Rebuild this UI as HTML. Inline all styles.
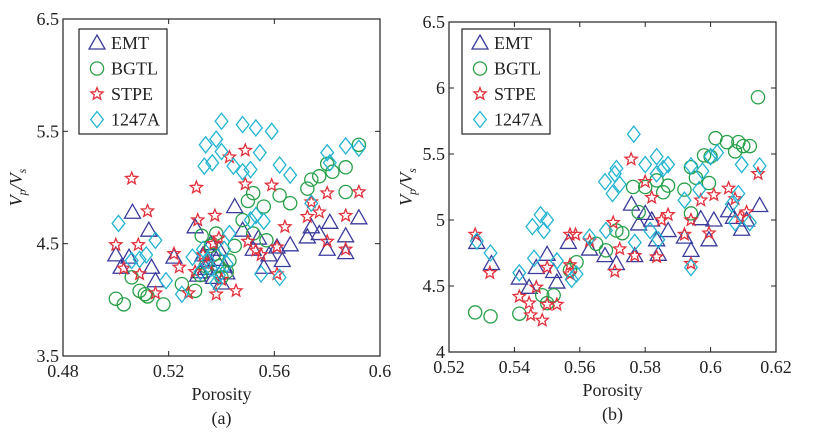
<!DOCTYPE html>
<html><head><meta charset="utf-8"><style>
html,body{margin:0;padding:0;background:#fff;}
svg text{font-family:"Liberation Serif",serif;fill:#222;}
</style></head><body>
<svg id="fig" width="826" height="433" viewBox="0 0 826 433" xmlns="http://www.w3.org/2000/svg"></svg>
<script>
// ---------- Panel (a) data ----------
const aEmtX=[0.500,0.5063,0.502,0.505,0.5125,0.515,0.5135,0.522,0.530,0.532,0.535,0.537,0.539,0.541,0.533,0.536,0.540,0.545,0.548,0.552,0.556,0.561,0.563,0.566,0.5725,0.574,0.577,0.580,0.581,0.587,0.587,0.592,0.554,0.558,0.531,0.534,0.538,0.542];
const aEmtY=[4.40,4.78,4.29,4.38,4.62,4.17,4.29,4.38,4.65,4.25,4.35,4.20,4.45,4.30,4.40,4.50,4.15,4.83,4.62,4.45,4.29,4.47,4.35,4.49,4.56,4.65,4.59,4.45,4.69,4.57,4.42,4.73,4.55,4.40,4.22,4.28,4.36,4.24];
const aBgtlX=[0.500,0.503,0.506,0.509,0.512,0.518,0.525,0.530,0.5325,0.538,0.543,0.548,0.552,0.556,0.562,0.566,0.5725,0.574,0.577,0.580,0.582,0.587,0.587,0.592,0.557,0.552,0.534,0.537,0.540,0.545,0.511,0.532,0.536,0.539,0.542,0.550];
const aBgtlY=[4.01,3.96,4.20,4.08,4.03,3.96,4.14,4.08,4.57,4.59,4.35,4.71,4.95,4.83,4.93,4.86,4.99,5.07,5.10,5.21,5.14,4.96,5.18,5.38,4.53,4.59,4.30,4.40,4.20,4.48,4.05,4.22,4.48,4.30,4.25,4.88];
const aStpeX=[0.500,0.506,0.5085,0.503,0.512,0.509,0.515,0.522,0.5275,0.5305,0.531,0.5375,0.538,0.543,0.5455,0.549,0.549,0.550,0.553,0.559,0.561,0.564,0.561,0.5725,0.574,0.577,0.580,0.580,0.587,0.587,0.592,0.535,0.524,0.537,0.540,0.533,0.530,0.539,0.555];
const aStpeY=[4.49,5.08,4.49,4.28,4.79,4.23,4.06,4.41,4.06,5.00,4.71,4.75,4.05,5.27,4.08,5.33,5.03,4.52,4.44,5.02,4.47,4.65,4.23,4.74,4.87,4.78,4.95,4.52,4.75,4.45,4.96,4.32,4.29,4.50,4.18,4.40,4.25,4.55,4.40];
const aDiaX=[0.501,0.506,0.5115,0.515,0.519,0.525,0.534,0.5335,0.5365,0.538,0.540,0.540,0.548,0.553,0.559,0.5445,0.548,0.551,0.5545,0.562,0.566,0.574,0.580,0.581,0.587,0.592,0.551,0.555,0.562,0.529,0.543,0.532,0.535,0.538,0.541,0.536,0.509,0.556,0.533,0.539,0.542,0.553];
const aDiaY=[4.68,4.35,4.40,4.53,4.17,4.05,5.38,5.19,5.22,5.43,5.59,5.32,5.56,5.53,5.50,5.19,5.14,5.16,5.31,5.20,5.11,4.86,5.31,5.22,5.37,5.35,4.71,4.23,4.20,4.38,4.59,4.25,4.35,4.15,4.45,4.28,4.36,4.70,4.45,4.22,4.32,4.75];
// ---------- Panel (b) data ----------
const bEmtX=[0.5285,0.533,0.5415,0.5445,0.5467,0.550,0.552,0.553,0.5565,0.563,0.5677,0.5712,0.5758,0.5768,0.578,0.580,0.582,0.5835,0.584,0.587,0.592,0.594,0.597,0.5995,0.601,0.6055,0.607,0.6095,0.611,0.615];
const bEmtY=[4.83,4.67,4.56,4.49,4.64,4.74,4.61,4.53,4.83,4.78,4.73,4.67,5.12,4.73,4.97,5.05,5.00,4.85,4.74,4.92,4.87,4.77,5.01,4.85,5.00,5.07,5.02,4.93,5.00,5.11];
const bBgtlX=[0.528,0.5327,0.5415,0.550,0.552,0.557,0.559,0.565,0.568,0.5712,0.573,0.5763,0.578,0.580,0.5835,0.5855,0.587,0.592,0.594,0.5955,0.598,0.5995,0.600,0.6015,0.605,0.6075,0.6085,0.610,0.612,0.6145,0.594,0.5485];
const bBgtlY=[4.30,4.27,4.29,4.37,4.43,4.62,4.68,4.82,4.77,4.92,4.90,5.25,5.06,5.25,5.30,5.21,5.26,5.23,5.40,5.32,5.49,5.28,5.48,5.62,5.59,5.52,5.59,5.56,5.56,5.93,5.05,4.43];
const bStpeX=[0.528,0.5325,0.5415,0.545,0.5467,0.5485,0.550,0.550,0.553,0.557,0.5587,0.557,0.563,0.5702,0.5707,0.5722,0.5757,0.5768,0.580,0.582,0.5835,0.585,0.587,0.592,0.594,0.594,0.597,0.5995,0.601,0.6055,0.6075,0.609,0.611,0.6145,0.557,0.5445];
const bStpeY=[4.89,4.60,4.42,4.28,4.49,4.24,4.36,4.64,4.36,4.89,4.89,4.66,4.84,4.98,4.61,4.78,5.46,4.73,5.29,5.17,4.72,5.00,5.04,4.89,4.67,5.00,5.15,4.90,5.19,5.24,5.16,5.02,5.06,5.35,4.59,4.37];
const bDiaX=[0.5285,0.5327,0.5415,0.5455,0.548,0.550,0.549,0.546,0.553,0.5575,0.559,0.563,0.5677,0.5707,0.5712,0.5722,0.570,0.5765,0.5768,0.580,0.5835,0.5835,0.5855,0.587,0.5815,0.584,0.592,0.594,0.594,0.5965,0.5975,0.600,0.602,0.6065,0.6075,0.6085,0.6095,0.612,0.615,0.568];
const bDiaY=[4.84,4.75,4.60,4.95,5.04,5.00,4.92,4.71,4.69,4.55,4.59,4.87,5.29,5.35,5.39,5.27,5.20,5.65,4.83,5.42,5.48,5.35,5.39,5.42,4.92,4.85,5.15,5.41,4.64,5.23,5.37,5.48,5.51,5.12,4.98,5.20,5.42,4.98,5.41,4.92];

const aXTicks=["0.48","0.52","0.56","0.6"], aXVals=[0.48,0.52,0.56,0.6];
const aYTicks=["3.5","4.5","5.5","6.5"], aYVals=[3.5,4.5,5.5,6.5];
const bXTicks=["0.52","0.54","0.56","0.58","0.6","0.62"], bXVals=[0.52,0.54,0.56,0.58,0.6,0.62];
const bYTicks=["4","4.5","5","5.5","6","6.5"], bYVals=[4,4.5,5,5.5,6,6.5];
const seriesNames=["EMT","BGTL","STPE","1247A"];

const NS="http://www.w3.org/2000/svg";
const svg=document.getElementById('fig');
const COL={EMT:"#3b3b9c",BGTL:"#27a048",STPE:"#e2303c","1247A":"#22b4d2"};
function mk(tag,attrs,parent){const e=document.createElementNS(NS,tag);for(const k in attrs)e.setAttribute(k,attrs[k]);(parent||svg).appendChild(e);return e;}
function marker(g,type,cx,cy){
  let e;
  if(type==="EMT") e=mk('polygon',{points:`${cx},${cy-8} ${cx+8},${cy+6} ${cx-8},${cy+6}`},g);
  else if(type==="BGTL") e=mk('circle',{cx:cx,cy:cy,r:6.6},g);
  else if(type==="1247A") e=mk('polygon',{points:`${cx},${cy-8} ${cx+6.3},${cy} ${cx},${cy+8} ${cx-6.3},${cy}`},g);
  else {let p=[];for(let i=0;i<10;i++){const r=i%2?2.8:6.4;const a=-Math.PI/2+i*Math.PI/5;p.push((cx+r*Math.cos(a)).toFixed(1)+","+(cy+r*Math.sin(a)).toFixed(1));}e=mk('polygon',{points:p.join(' ')},g);}
  e.setAttribute('fill','none');e.setAttribute('stroke',COL[type]);e.setAttribute('stroke-width','1.3');
  return e;
}
function panel(P){
  const g=mk('g',{});
  
  
  const sx=v=>P.x0+(v-P.xmin)/(P.xmax-P.xmin)*(P.x1-P.x0);
  const sy=v=>P.y1-(v-P.ymin)/(P.ymax-P.ymin)*(P.y1-P.y0);
  const box=mk('rect',{x:P.x0,y:P.y0,width:P.x1-P.x0,height:P.y1-P.y0,fill:'none',stroke:'#222','stroke-width':1.2},g);
  
  
  P.xv.forEach((v,i)=>{const x=sx(v);
    mk('line',{x1:x,x2:x,y1:P.y1,y2:P.y1-5,stroke:'#222'},g);mk('line',{x1:x,x2:x,y1:P.y0,y2:P.y0+5,stroke:'#222'},g);
    const t=mk('text',{x:x,y:P.y1+21,'text-anchor':'middle','font-size':18},g);t.textContent=P.xt[i];
    
    });
  P.yv.forEach((v,i)=>{const y=sy(v);
    mk('line',{x1:P.x0,x2:P.x0+5,y1:y,y2:y,stroke:'#222'},g);mk('line',{x1:P.x1,x2:P.x1-5,y1:y,y2:y,stroke:'#222'},g);
    const t=mk('text',{x:P.x0-4,y:y+6,'text-anchor':'end','font-size':18},g);t.textContent=P.yt[i];
    
    });
  const xl=mk('text',{x:(P.x0+P.x1)/2,y:P.y1+44,'text-anchor':'middle','font-size':18},g);xl.textContent="Porosity";
  
  
  const sub=mk('text',{x:(P.x0+P.x1)/2,y:P.y1+68,'text-anchor':'middle','font-size':18},g);sub.textContent=P.label;
  
  
  const yl=mk('text',{transform:`translate(${P.ylx},${(P.y0+P.y1)/2}) rotate(-90)`,'text-anchor':'middle','font-size':18,'font-style':'italic'},g);
  yl.innerHTML='V<tspan font-size="12" dy="4">p</tspan><tspan dy="-4">/V</tspan><tspan font-size="12" dy="4">s</tspan>';
  
  
  P.series.forEach(s=>{const sg=mk('g',{},g);
    
    
    s.x.forEach((xv,i)=>{const m=marker(sg,s.n,sx(xv),sy(s.y[i]));
      
      });});
  const lg=mk('g',{},g);
  
  
  mk('rect',{x:P.lx,y:29,width:88,height:105,fill:'#fff',stroke:'#222','stroke-width':1.2},lg);
  seriesNames.forEach((n,i)=>{const cy=43+i*25.5;
    const e=mk('g',{},lg);
    
    
    marker(e,n,P.lx+18,cy);
    const t=mk('text',{x:P.lx+32,y:cy+6,'font-size':18},e);t.textContent=n;});
}
panel({name:'panel-a',x0:63,x1:380,y0:19,y1:356,xmin:0.48,xmax:0.6,ymin:3.5,ymax:6.5,xv:aXVals,xt:aXTicks,yv:aYVals,yt:aYTicks,label:'(a)',ylx:22,lx:79,
  series:[{n:'EMT',x:aEmtX,y:aEmtY},{n:'BGTL',x:aBgtlX,y:aBgtlY},{n:'STPE',x:aStpeX,y:aStpeY},{n:'1247A',x:aDiaX,y:aDiaY}]});
panel({name:'panel-b',x0:449,x1:776,y0:22,y1:352,xmin:0.52,xmax:0.62,ymin:4,ymax:6.5,xv:bXVals,xt:bXTicks,yv:bYVals,yt:bYTicks,label:'(b)',ylx:412,lx:462,
  series:[{n:'EMT',x:bEmtX,y:bEmtY},{n:'BGTL',x:bBgtlX,y:bBgtlY},{n:'STPE',x:bStpeX,y:bStpeY},{n:'1247A',x:bDiaX,y:bDiaY}]});
</script>
</body></html>
